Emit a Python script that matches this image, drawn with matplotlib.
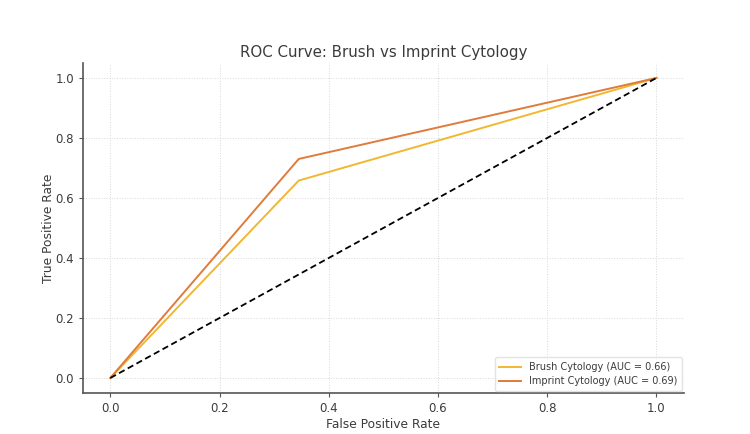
import matplotlib
matplotlib.use("Agg")
import matplotlib.pyplot as plt

fpr_brush = [0.0, 0.345, 1.0]
tpr_brush = [0.0, 0.658, 1.0]
fpr_imprint = [0.0, 0.345, 1.0]
tpr_imprint = [0.0, 0.73, 1.0]
auc_brush = 0.66
auc_imprint = 0.69
diag = [0.0, 1.0]
ticks = [0.0, 0.2, 0.4, 0.6, 0.8, 1.0]

text_color = "#3b3b3b"
fig = plt.figure(figsize=(7.5, 4.34), dpi=100)
ax = fig.add_axes([0.1107, 0.0945, 0.801, 0.7605])

ax.plot(fpr_brush, tpr_brush, color="#F2B731", lw=1.4,
        label=f"Brush Cytology (AUC = {auc_brush:.2f})")
ax.plot(fpr_imprint, tpr_imprint, color="#E07B39", lw=1.4,
        label=f"Imprint Cytology (AUC = {auc_imprint:.2f})")
ax.plot(diag, diag, color="black", lw=1.3, linestyle=(0, (3.5, 2)))

ax.set_xlim(-0.05, 1.05)
ax.set_ylim(-0.05, 1.05)
ax.set_xticks(ticks)
ax.set_yticks(ticks)
ax.set_xticklabels([f"{t:.1f}" for t in ticks])
ax.set_yticklabels([f"{t:.1f}" for t in ticks])
ax.tick_params(colors="#555555", labelcolor=text_color, labelsize=8.5, length=3, width=0.8)
for s in ["top", "right"]:
    ax.spines[s].set_visible(False)
for s in ["left", "bottom"]:
    ax.spines[s].set_color("#555555")
    ax.spines[s].set_linewidth(1.2)
ax.grid(True, linestyle=":", color="#d9d9d9", linewidth=0.7)
ax.set_axisbelow(True)

ax.set_xlabel("False Positive Rate", fontsize=8.8, color=text_color, labelpad=2)
ax.set_ylabel("True Positive Rate", fontsize=8.8, color=text_color, labelpad=0)
ax.set_title("ROC Curve: Brush vs Imprint Cytology", fontsize=10.8, color=text_color, pad=4)

leg = ax.legend(loc="lower right", fontsize=7, frameon=True, handlelength=2.2,
                borderpad=0.5, labelspacing=0.4, borderaxespad=0.2)
leg.get_frame().set_edgecolor("#dddddd")
for t in leg.get_texts():
    t.set_color(text_color)

fig.savefig("out.png", dpi=100)
